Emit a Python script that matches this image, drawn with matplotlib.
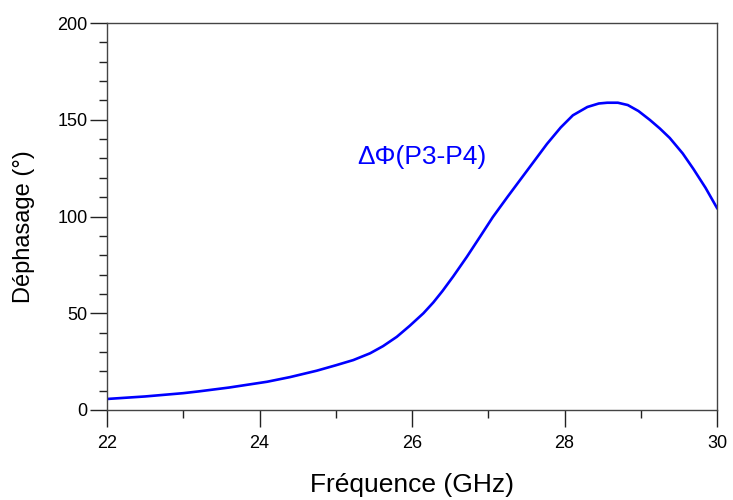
import numpy as np
import matplotlib
matplotlib.use("Agg")
import matplotlib.pyplot as plt
from matplotlib.ticker import MultipleLocator

plt.rcParams['font.family'] = ['Liberation Sans', 'DejaVu Sans']

# frequency (GHz) and phase shift (deg)
freq = [22.0, 22.5, 23.0, 23.2, 23.6, 24.1, 24.4, 24.75, 25.0, 25.23, 25.45,
        25.62, 25.8, 25.97, 26.15, 26.28, 26.4, 26.54, 26.72, 26.9, 27.06,
        27.25, 27.42, 27.6, 27.77, 27.95, 28.11, 28.3, 28.45, 28.56, 28.7,
        28.83, 28.97, 29.12, 29.25, 29.38, 29.55, 29.69, 29.85, 30.0]
dphi = [5.7, 7.0, 8.7, 9.6, 11.6, 14.6, 17.0, 20.3, 23.1, 25.8, 29.3,
        33.0, 37.8, 43.5, 50.0, 55.6, 61.5, 69.0, 79.2, 90.0, 99.7,
        110.0, 119.0, 128.5, 137.5, 146.0, 152.3, 156.6, 158.4, 158.8, 158.8,
        157.6, 154.5, 149.9, 145.5, 140.6, 132.6, 124.6, 114.8, 104.4]

fig = plt.figure(figsize=(7.33, 5.0), dpi=100)
ax = fig.add_axes([107/733, 90/500, 610/733, 387/500])

ax.plot(freq, dphi, color='#0000ff', lw=1.9)
ax.text(25.28, 131, "ΔΦ(P3-P4)", color='#0000ff', fontsize=19,
        ha='left', va='center')

ax.set_xlim(22, 30)
ax.set_ylim(0, 200)
ax.xaxis.set_major_locator(MultipleLocator(2))
ax.xaxis.set_minor_locator(MultipleLocator(1))
ax.yaxis.set_major_locator(MultipleLocator(50))
ax.yaxis.set_minor_locator(MultipleLocator(10))
ax.tick_params(which='major', direction='out', length=12, width=1,
               labelsize=13, top=False, right=False, color='#222222')
ax.tick_params(which='minor', direction='out', length=6, width=1,
               top=False, right=False, color='#222222')
ax.tick_params(axis='x', which='major', pad=6)
ax.tick_params(axis='y', which='major', pad=2)
for s in ax.spines.values():
    s.set_color('#444444')
    s.set_linewidth(1)

ax.set_xlabel("Fréquence (GHz)", fontsize=19)
ax.set_ylabel("Déphasage (°)", fontsize=17)
ax.xaxis.set_label_coords(0.5, -0.163)
ax.yaxis.set_label_coords(-0.118, 0.474)

fig.savefig("out.png", dpi=100)
